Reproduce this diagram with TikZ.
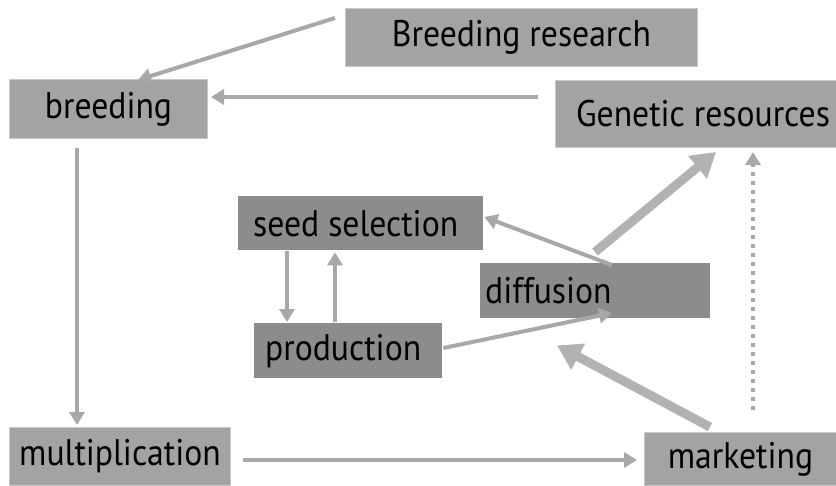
\documentclass[tikz,border=0pt]{standalone}
\usepackage{fontspec}
\setmainfont{PT Sans}[FakeStretch=0.91]
\usetikzlibrary{arrows.meta}
\definecolor{boxlight}{HTML}{A3A3A3}
\definecolor{boxdark}{HTML}{8C8C8C}
\definecolor{boxedge}{HTML}{C8C8C8}
\definecolor{arrowgray}{HTML}{A8A8A8}
\definecolor{thickgray}{HTML}{B2B2B2}
\tikzset{
  lightbox/.style={fill=boxlight, draw=boxedge, line width=1pt, inner sep=0pt, anchor=north west, font=\fontsize{37}{42}\selectfont},
  darkbox/.style={fill=boxdark, inner sep=0pt, anchor=north west, font=\fontsize{37}{42}\selectfont},
  thin/.style={draw=arrowgray, line width=4pt, -{Triangle[length=13pt,width=15pt]}},
  thick/.style={draw=thickgray, line width=9pt, -{Triangle[length=24pt,width=28pt]}},
  dotline/.style={draw=arrowgray, line width=4pt, dash pattern=on 4pt off 5pt, -{Triangle[length=13pt,width=15pt]}}
}
\begin{document}
\begin{tikzpicture}[x=1pt,y=-1pt]
\useasboundingbox (0,0) rectangle (836,485);
\fill[white] (0,0) rectangle (836,485);
\node[lightbox, minimum width=352pt, minimum height=58pt] (br) at (345,8) {Breeding research};
\node[lightbox, minimum width=198pt, minimum height=59pt] (bd) at (9,79) {breeding};
\node[lightbox, minimum width=281pt, minimum height=67pt] (gr) at (555,80) {\hspace*{14pt}Genetic resources};
\node[darkbox, minimum width=245pt, minimum height=54pt] (ss) at (238,196) {seed selection\hspace*{10pt}};
\node[darkbox, minimum width=230pt, minimum height=55pt, text width=220pt, align=left] (df) at (480,263) {diffusion};
\node[darkbox, minimum width=188pt, minimum height=55pt] (pr) at (254,323) {production\hspace*{10pt}};
\node[lightbox, minimum width=221pt, minimum height=58pt] (mu) at (9,427) {multiplication};
\node[lightbox, minimum width=192pt, minimum height=53pt] (mk) at (644,432) {marketing};
% connectors
\draw[thin] ([shift={(-10,10)}]br.north west) -- ([shift={(129,1)}]bd.north west);
\draw[thin] ([shift={(-17,17)}]gr.north west) -- ([shift={(3,18)}]bd.north east);
\draw[thin] ([shift={(68,9)}]bd.south west) -- ([shift={(68,-2)}]mu.north west);
\draw[thin] ([shift={(12,33)}]mu.north east) -- ([shift={(-7,28)}]mk.north west);
\draw[thick] ([shift={(115,-11)}]df.north west) -- ([shift={(161,4)}]gr.south west);
\draw[dotline] ([shift={(109,-22)}]mk.north west) -- ([shift={(198,4)}]gr.south west);
\draw[thick] ([shift={(66,-5)}]mk.north west) -- ([shift={(77,27)}]df.south west);
\draw[thin] ([shift={(132,2)}]df.north west) -- ([shift={(1,21)}]ss.north east);
\draw[thin] ([shift={(1,25)}]pr.north east) -- ([shift={(132,50)}]df.north west);
\draw[thin] ([shift={(49,1)}]ss.south west) -- ([shift={(33,-1)}]pr.north west);
\draw[thin] ([shift={(81,-1)}]pr.north west) -- ([shift={(97,2)}]ss.south west);
\end{tikzpicture}
\end{document}
